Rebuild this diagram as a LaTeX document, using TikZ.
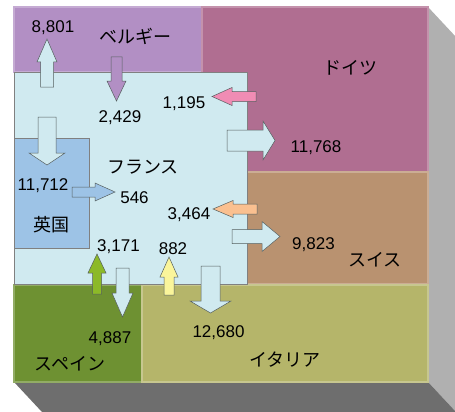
\documentclass[tikz,border=0pt]{standalone}
\usepackage{fontspec}
\setmainfont{Liberation Sans}
\newfontfamily\jpfont{Noto Sans CJK JP}
\usetikzlibrary{calc}

\definecolor{belgium}{RGB}{178,143,196}
\definecolor{germany}{RGB}{176,110,145}
\definecolor{france}{RGB}{208,234,240}
\definecolor{britain}{RGB}{157,195,230}
\definecolor{swiss}{RGB}{185,146,112}
\definecolor{spain}{RGB}{110,145,50}
\definecolor{italy}{RGB}{181,181,106}
\definecolor{pinkarr}{RGB}{240,140,180}
\definecolor{peacharr}{RGB}{250,192,144}
\definecolor{greenarr}{RGB}{140,185,40}
\definecolor{yellowarr}{RGB}{250,245,155}
\definecolor{edgegrey}{RGB}{85,95,95}

% block arrow: colour, tail, rotation, length, half shaft, half head, head length
\newcommand{\flowarrow}[7]{%
  \begin{scope}[shift={#2},rotate=#3]
    \draw[flow,fill=#1] (0,-#5) -- ({#4-#7},-#5) -- ({#4-#7},-#6) -- (#4,0)
      -- ({#4-#7},#6) -- ({#4-#7},#5) -- (0,#5) -- cycle;
  \end{scope}}

\begin{document}
\begin{tikzpicture}[x=1pt,y=-1pt,
    flow/.style={draw=edgegrey, line width=0.5pt},
    num/.style={anchor=base, inner sep=0pt, font=\fontsize{17}{20}\selectfont},
    jp/.style={inner sep=0pt, font=\jpfont\fontsize{18}{20}\selectfont},
    region/.style={fill=#1, draw=#1!75!white, line width=1.2pt}]
  \useasboundingbox (0,0) rectangle (455,412);

  % box sides
  \fill[gray!62] (428,7) -- (456,37) -- (456,412) -- (428,382) -- cycle;
  \fill[black!57] (14,382) -- (428,382) -- (456,412) -- (42,412) -- cycle;

  % countries
  \draw[region=belgium] (14,7) rectangle (202,72);
  \draw[region=germany] (202,7) rectangle (428,172);
  \draw[region=swiss] (247,172) rectangle (428,284);
  \draw[region=spain] (14,285) rectangle (142,382);
  \draw[region=italy] (142,285) rectangle (428,382);
  \draw[fill=france, draw=gray] (14,72) rectangle (247,284);
  \draw[fill=britain, draw=gray] (14,138) rectangle (89,248);

  % flows
  \flowarrow{france}{(47,87)}{90}{48}{6.5}{10}{23}
  \flowarrow{belgium}{(116.5,57)}{-90}{44}{5.5}{9.5}{20}
  \flowarrow{pinkarr}{(256,96.5)}{180}{44}{5}{9}{20}
  \flowarrow{france}{(227,140.5)}{0}{48}{10.5}{19.5}{12}
  \flowarrow{france}{(47,117)}{-90}{48}{9}{18}{12}
  \flowarrow{britain}{(72,192)}{0}{43}{5}{9}{20}
  \flowarrow{peacharr}{(257,209)}{180}{44}{5}{8.5}{20}
  \flowarrow{france}{(232,236.5)}{0}{48}{7}{15}{18}
  \flowarrow{greenarr}{(97,294)}{90}{40}{4.5}{9}{19}
  \flowarrow{france}{(122.5,268)}{-90}{49}{6.5}{10.5}{24}
  \flowarrow{yellowarr}{(169,295)}{90}{38}{5}{9}{20}
  \flowarrow{france}{(210.5,266)}{-90}{47}{9.5}{20.5}{12}

  % names
  \node[jp] (be) at (135,36) {ベルギー};
  \node[jp] (de) at (350,68) {ドイツ};
  \node[jp] (fr) at (143,167) {フランス};
  \node[jp] (uk) at (51,225) {英国};
  \node[jp] (ch) at (375,260) {スイス};
  \node[jp] (es) at (70,364) {スペイン};
  \node[jp] (it) at (285,360) {イタリア};

  % values
  \node[num] (v8801) at (53,33) {8,801};
  \node[num] (v2429) at (120,122) {2,429};
  \node[num] (v1195) at (184,108) {1,195};
  \node[num] (v11768) at (316,152) {11,768};
  \node[num] (v11712) at (43,190) {11,712};
  \node[num] (v546) at (134.5,203) {546};
  \node[num] (v3464) at (189,219) {3,464};
  \node[num] (v9823) at (313.5,249) {9,823};
  \node[num] (v3171) at (118.5,251) {3,171};
  \node[num] (v882) at (173,254) {882};
  \node[num] (v4887) at (110,343) {4,887};
  \node[num] (v12680) at (218.5,337) {12,680};
\end{tikzpicture}
\end{document}
